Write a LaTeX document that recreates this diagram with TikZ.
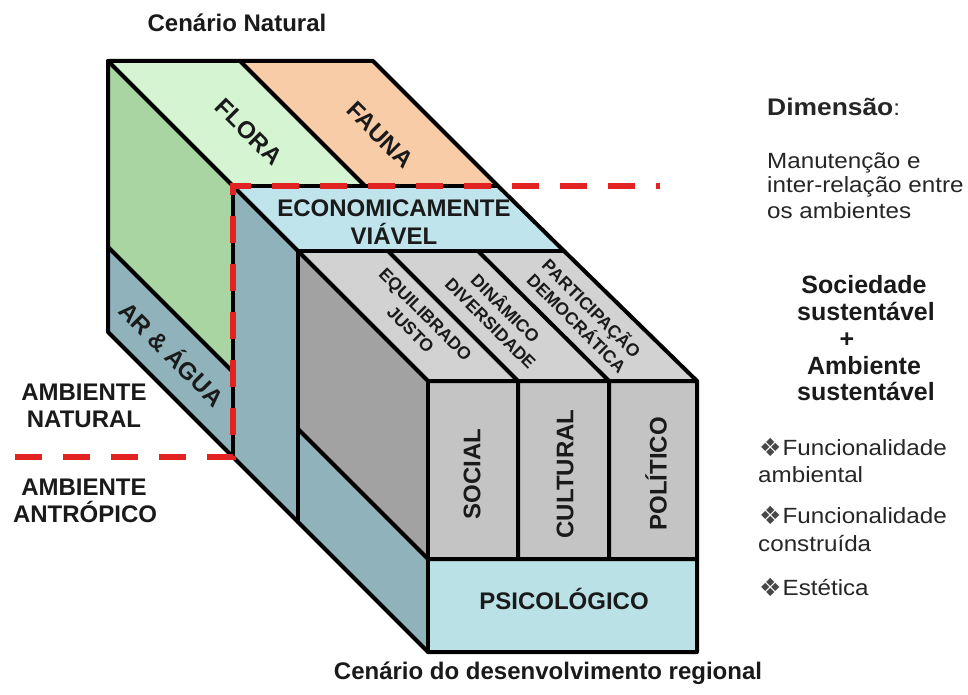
\documentclass[tikz,border=0pt]{standalone}
\usepackage{fontspec}
\setmainfont{Liberation Sans}
\newfontfamily\rfont[FakeStretch=1.1]{Liberation Sans}
\newfontfamily\symfont{DejaVu Sans}
\definecolor{floraC}{HTML}{D5F5D2}
\definecolor{faunaC}{HTML}{F9CCA8}
\definecolor{greenC}{HTML}{A8D5A2}
\definecolor{blueG}{HTML}{8FB2BB}
\definecolor{ecoC}{HTML}{C0E4EB}
\definecolor{psiC}{HTML}{BAE1E6}
\definecolor{grayT}{HTML}{D2D2D2}
\definecolor{grayD}{HTML}{A2A2A2}
\definecolor{grayF}{HTML}{C4C4C4}
\definecolor{txt}{HTML}{1A1A1A}
\definecolor{txtR}{HTML}{262626}
\definecolor{redD}{HTML}{E32222}
\newcommand\mybul{{\symfont\fontsize{25}{25}\selectfont\color{txtR!85}\raisebox{-1pt}{❖}}\hspace{1pt}}
\begin{document}
\begin{tikzpicture}[x=1pt,y=-1pt,
  outl/.style={line width=4pt,line join=round,line cap=round,draw=black},
  rdash/.style={draw=redD,line width=6.5pt,dash pattern=on 27pt off 21pt,line join=miter},
  lblA/.style={font=\bfseries\fontsize{24}{28}\selectfont,text=txt,inner sep=0pt,align=center},
  lblD/.style={lblA,rotate=-45},
  lblS/.style={font=\bfseries\fontsize{17.5}{21}\selectfont,text=txt,inner sep=0pt,align=center,rotate=-45},
  lblV/.style={lblA,rotate=90},
  ttl/.style={font=\bfseries\fontsize{24}{28}\selectfont,text=txt,inner sep=0pt,anchor=base},
  sidet/.style={font=\rfont\fontsize{22}{25}\selectfont,text=txtR,inner sep=0pt,anchor=base west},
  sideb/.style={font=\bfseries\fontsize{25}{27}\selectfont,text=txt,inner sep=0pt,anchor=base},
]
\fill[white] (0,0) rectangle (968,695);
\useasboundingbox (0,0) rectangle (968,695);

% key points of the block
\coordinate (TL) at (108,61);
\coordinate (FS0) at (240,61);
\coordinate (TR) at (373,61);
\coordinate (L1) at (233,186);
\coordinate (FS1) at (365,186);
\coordinate (R1) at (498,186);
\coordinate (L2) at (298,251);
\coordinate (G1b) at (388,251);
\coordinate (G2b) at (478,251);
\coordinate (R2) at (564,251);
\coordinate (L3) at (428,381);
\coordinate (G1f) at (518,381);
\coordinate (G2f) at (609,381);
\coordinate (R3) at (697,381);
\coordinate (AS0) at (108,247);
\coordinate (AS1) at (233,372);
\coordinate (BL0) at (108,332);
\coordinate (BL1) at (233,457);
\coordinate (BL2) at (298,522);
\coordinate (DS2) at (298,429);
\coordinate (DS3) at (428,559);
\coordinate (C1f) at (518,559);
\coordinate (C2f) at (609,559);
\coordinate (PS3) at (697,559);
\coordinate (BL3) at (428,652);
\coordinate (BR3) at (697,652);
\coordinate (RDa) at (15,457);
\coordinate (RDb) at (660,186);

% faces
\fill[floraC] (TL) -- (FS0) -- (FS1) -- (L1) -- cycle;
\fill[faunaC] (FS0) -- (TR) -- (R1) -- (FS1) -- cycle;
\fill[greenC] (TL) -- (L1) -- (AS1) -- (AS0) -- cycle;
\fill[blueG] (AS0) -- (AS1) -- (BL1) -- (BL0) -- cycle;
\fill[ecoC] (L1) -- (R1) -- (R2) -- (L2) -- cycle;
\fill[blueG] (L1) -- (L2) -- (BL2) -- (BL1) -- cycle;
\fill[grayT] (L2) -- (R2) -- (R3) -- (L3) -- cycle;
\fill[grayD] (L2) -- (L3) -- (DS3) -- (DS2) -- cycle;
\fill[blueG] (DS2) -- (DS3) -- (BL3) -- (BL2) -- cycle;
\fill[grayF] (L3) -- (R3) -- (PS3) -- (DS3) -- cycle;
\fill[psiC] (DS3) -- (PS3) -- (BR3) -- (BL3) -- cycle;

% outlines
\draw[outl] (TL) -- (TR) -- (R1) -- (R2) -- (R3) -- (BR3) -- (BL3) -- (BL0) -- cycle;
\draw[outl] (TL) -- (L3) -- (R3);
\draw[outl] (L3) -- (BL3);
\draw[outl] (L1) -- (R1);
\draw[outl] (L2) -- (R2);
\draw[outl] (L1) -- (BL1);
\draw[outl] (L2) -- (BL2);
\draw[outl] (FS0) -- (FS1);
\draw[outl] (AS0) -- (AS1);
\draw[outl] (DS2) -- (DS3) -- (PS3);
\draw[outl] (G1b) -- (G1f) -- (C1f);
\draw[outl] (G2b) -- (G2f) -- (C2f);

% natural / anthropic boundary
\draw[rdash] (RDa) -- (BL1) -- (L1) -- (RDb);

% labels on the block
\node[lblD] (flora) at (249,132) {FLORA};
\node[lblD] (fauna) at (380,135) {FAUNA};
\node[lblD] (ar) at (173,353) {AR \& ÁGUA};
\node[lblA] (eco) at (394,222) {ECONOMICAMENTE\\VIÁVEL};
\node[lblS] (equi) at (418,322) {EQUILIBRADO\\JUSTO};
\node[lblS] (dina) at (499,315) {DINÂMICO\\DIVERSIDADE};
\node[lblS] (part) at (585,315) {PARTICIPAÇÃO\\DEMOCRÁTICA};
\node[lblV] (social) at (472,474) {SOCIAL};
\node[lblV] (cultural) at (565,474) {CULTURAL};
\node[lblV] (politico) at (656,474) {POLÍTICO};
\node[lblA] (psico) at (564,599) {PSICOLÓGICO};

% titles
\node[ttl] (tnat) at (237,32) {Cenário Natural};
\node[ttl] (treg) at (548,679) {Cenário do desenvolvimento regional};

% left labels
\node[ttl] (an1) at (84,400) {AMBIENTE};
\node[ttl] (an2) at (84,427) {NATURAL};
\node[ttl] (aa1) at (84,495) {AMBIENTE};
\node[ttl] (aa2) at (85,522) {ANTRÓPICO};

% right column
\node[sidet] (dim) at (767,116) {{\bfseries\fontsize{24}{25}\selectfont Dimensão}:};
\node[sidet] (m1) at (767,168) {Manutenção e};
\node[sidet] (m2) at (767,193) {inter-relação entre};
\node[sidet] (m3) at (767,218) {os ambientes};
\node[sideb] (s1) at (864,293) {Sociedade};
\node[sideb] (s2) at (866,320) {sustentável};
\node[sideb] (s3) at (847,347) {+};
\node[sideb] (s4) at (864,374) {Ambiente};
\node[sideb] (s5) at (866,400) {sustentável};
\node[sidet] (f1) at (759,455) {\mybul Funcionalidade};
\node[sidet] (f2) at (758,482) {ambiental};
\node[sidet] (f3) at (759,523) {\mybul Funcionalidade};
\node[sidet] (f4) at (758,551) {construída};
\node[sidet] (f5) at (759,595) {\mybul Estética};
\end{tikzpicture}
\end{document}
